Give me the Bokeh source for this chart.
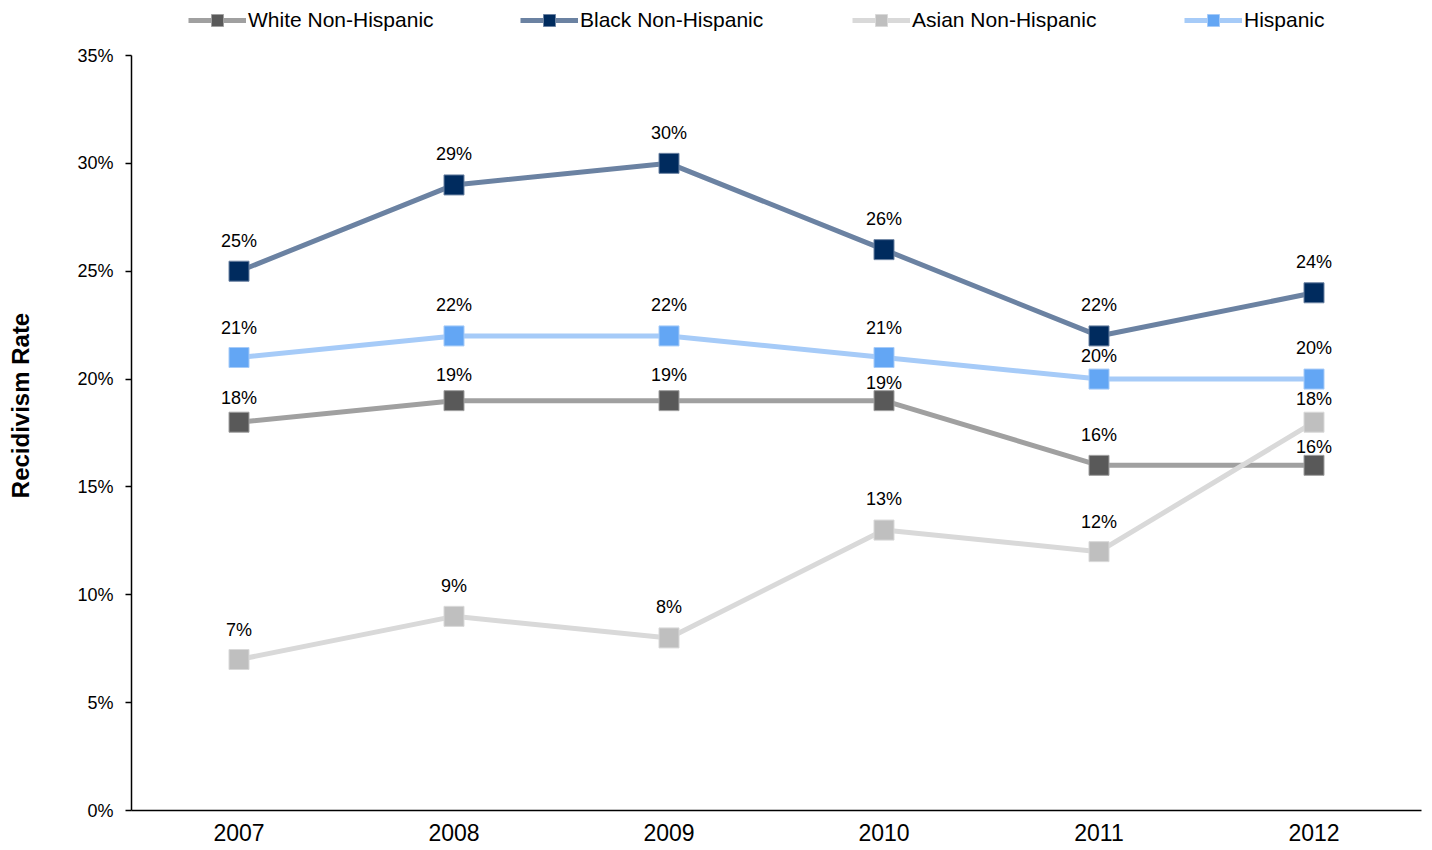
from bokeh.plotting import figure
from bokeh.models import (FactorRange, Range1d, FixedTicker, PrintfTickFormatter,
                          Legend, LegendItem, ColumnDataSource)
from bokeh.core.properties import value
from bokeh.embed import file_html
from bokeh.resources import INLINE

years = ["2007", "2008", "2009", "2010", "2011", "2012"]
white = [18, 19, 19, 19, 16, 16]
black = [25, 29, 30, 26, 22, 24]
asian = [7, 9, 8, 13, 12, 18]
hispanic = [21, 22, 22, 21, 20, 20]
y_ticks = [0, 5, 10, 15, 20, 25, 30, 35]
y_max = 35

# label vertical offsets (px above point)
off_white = [24, 26, 26, 18, 30, 18]
off_black = [30, 31, 30, 31, 31, 31]
off_asian = [30, 30, 31, 31, 30, 23]
off_hisp = [30, 31, 31, 30, 23, 31]

series = [
    ("White Non-Hispanic", white, "#A0A0A0", "#595959", off_white),
    ("Black Non-Hispanic", black, "#6B82A2", "#002B5E", off_black),
    ("Asian Non-Hispanic", asian, "#D9D9D9", "#BFBFBF", off_asian),
    ("Hispanic", hispanic, "#A6CBF8", "#63A6F4", off_hisp),
]

FONT = "Liberation Sans"

# frame spans from the top of the figure; axis bounded to 0..35 so legend can sit above
FRAME_H = 810
AXIS_H = 755
y_end = y_max * FRAME_H / AXIS_H

p = figure(width=1424, height=850, x_range=FactorRange(factors=years, range_padding=0),
           y_range=Range1d(0, y_end), output_backend="svg", toolbar_location=None,
           min_border_left=131, min_border_right=3, min_border_top=0, min_border_bottom=40)
p.outline_line_color = None
p.xgrid.visible = False
p.ygrid.visible = False
p.background_fill_color = "white"

legend = Legend(items=[], orientation="horizontal", location=(57, 775),
                glyph_width=58, glyph_height=30, label_standoff=2, label_width=272,
                spacing=0, padding=0, margin=0, border_line_color=None,
                background_fill_alpha=0, label_text_font=FONT, label_text_font_size="21px",
                label_text_color="#000000")
p.add_layout(legend, "center")

for name, vals, lc, mc, offs in series:
    src = ColumnDataSource(dict(x=years, y=vals, t=[f"{v}%" for v in vals],
                                off=[-o for o in offs]))
    r1 = p.line("x", "y", source=src, line_color=lc, line_width=5)
    r2 = p.scatter("x", "y", source=src, marker="square", size=20, fill_color=mc,
                   line_color=lc, line_width=1)
    p.text("x", "y", text="t", source=src, y_offset="off", text_align="center",
           text_baseline="middle", text_font=value(FONT), text_font_size="18px",
           text_color="#000000")
    legend.items.append(LegendItem(label=name, renderers=[r1, r2]))

ya = p.yaxis[0]
ya.bounds = (0, y_max)
ya.ticker = FixedTicker(ticks=y_ticks)
ya.formatter = PrintfTickFormatter(format="%d%%")
ya.major_tick_in = 0
ya.major_tick_out = 6
ya.minor_tick_in = 0
ya.minor_tick_out = 0
ya.axis_line_color = "#000000"
ya.axis_line_width = 1.5
ya.major_tick_line_color = "#000000"
ya.major_tick_line_width = 1.5
ya.major_label_standoff = 12
ya.major_label_text_font = FONT
ya.major_label_text_font_size = "18px"
ya.major_label_text_color = "#000000"
ya.axis_label = "Recidivism Rate"
ya.axis_label_text_font = FONT
ya.axis_label_text_font_style = "bold"
ya.axis_label_text_font_size = "24px"
ya.axis_label_text_color = "#000000"
ya.axis_label_standoff = 40

xa = p.xaxis[0]
xa.major_tick_in = 0
xa.major_tick_out = 0
xa.axis_line_color = "#000000"
xa.axis_line_width = 1.5
xa.major_label_standoff = 13
xa.major_label_text_font = FONT
xa.major_label_text_font_size = "23px"
xa.major_label_text_color = "#000000"

open("out.html", "w").write(file_html(p, INLINE))
